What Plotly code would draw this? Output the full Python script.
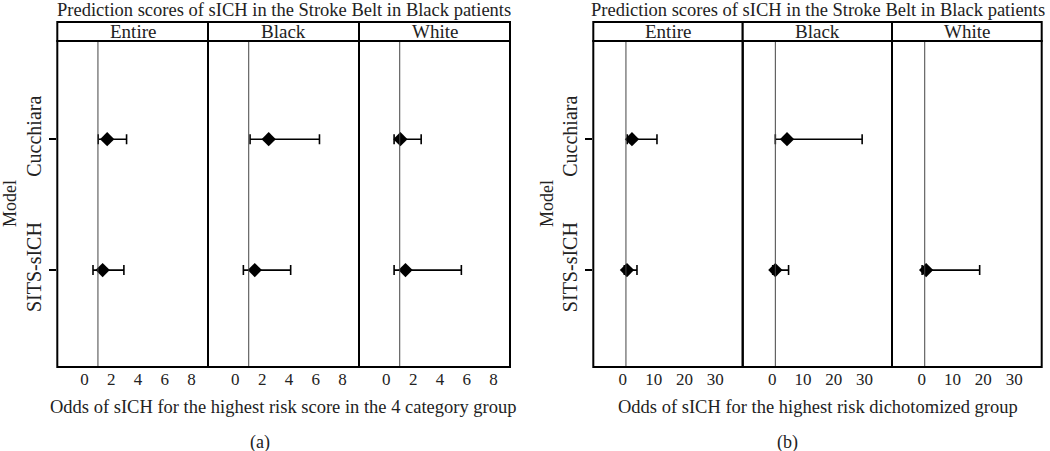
import plotly.graph_objects as go

# ---------------- data ----------------
models = ["Cucchiara", "SITS-sICH"]
groups = ["Entire", "Black", "White"]

# Panel (a): 4-category group odds ratios [Cucchiara, SITS-sICH]
a_entire_or = [1.69, 1.35]
a_entire_lo = [1.02, 0.63]
a_entire_hi = [3.14, 2.94]
a_black_or = [2.49, 1.45]
a_black_lo = [1.10, 0.60]
a_black_hi = [6.28, 4.13]
a_white_or = [1.05, 1.43]
a_white_lo = [0.58, 0.58]
a_white_hi = [2.60, 5.60]

# Panel (b): dichotomized group odds ratios [Cucchiara, SITS-sICH]
b_entire_or = [2.95, 1.33]
b_entire_lo = [1.43, 0.47]
b_entire_hi = [11.07, 4.58]
b_black_or = [4.8, 1.0]
b_black_lo = [1.0, 0.15]
b_black_hi = [29.2, 5.3]
b_white_or = [None, 1.45]
b_white_lo = [None, 0.16]
b_white_hi = [None, 18.8]

a_ticks = [0, 2, 4, 6, 8]
b_ticks = [0, 10, 20, 30]
ref_value = 1

title_text = "Prediction scores of sICH in the Stroke Belt in Black patients"
a_xtitle = "Odds of sICH for the highest risk score in the 4 category group"
b_xtitle = "Odds of sICH for the highest risk dichotomized group"

# ---------------- layout geometry ----------------
W, H = 1050, 451
FONT = "Liberation Serif"

def fx(px):
    return px / W

def fy(py):
    return 1 - py / H

plot_top, plot_bot = 41, 367
strip_top = 22
a_edges = [57.3, 208, 359, 510]
b_edges = [593.3, 742.7, 892, 1041.7]
a_range = [-2.04, 9.23]
b_range = [-9.6, 38.9]
y_range = [0.26, 2.75]
ypos = {"Cucchiara": 2, "SITS-sICH": 1}

fig = go.Figure()

panels = [
    ("a", a_edges, a_range, a_ticks,
     [(a_entire_or, a_entire_lo, a_entire_hi),
      (a_black_or, a_black_lo, a_black_hi),
      (a_white_or, a_white_lo, a_white_hi)]),
    ("b", b_edges, b_range, b_ticks,
     [(b_entire_or, b_entire_lo, b_entire_hi),
      (b_black_or, b_black_lo, b_black_hi),
      (b_white_or, b_white_lo, b_white_hi)]),
]

shapes = []
annotations = []
axis_idx = 0
for pi, (name, edges, xr, ticks, series) in enumerate(panels):
    y_axis_name = "y" if pi == 0 else "y2"
    y_layout_key = "yaxis" if pi == 0 else "yaxis2"
    for gi, g in enumerate(groups):
        axis_idx += 1
        xa = "x" if axis_idx == 1 else f"x{axis_idx}"
        xkey = "xaxis" if axis_idx == 1 else f"xaxis{axis_idx}"
        orv, lo, hi = series[gi]
        xs, ys, ep, em = [], [], [], []
        for mi, m in enumerate(models):
            if orv[mi] is None:
                continue
            xs.append(orv[mi])
            ys.append(ypos[m])
            ep.append(hi[mi] - orv[mi])
            em.append(orv[mi] - lo[mi])
        fig.add_trace(go.Scatter(
            x=xs, y=ys, xaxis=xa, yaxis=y_axis_name, mode="markers",
            marker=dict(symbol="diamond", size=11, color="black"),
            error_x=dict(type="data", symmetric=False, array=ep, arrayminus=em,
                         color="black", thickness=1.6, width=5),
            showlegend=False, hoverinfo="x+y",
        ))
        fig.layout[xkey] = dict(
            domain=[fx(edges[gi]), fx(edges[gi + 1])], range=xr,
            anchor=y_axis_name, tickvals=ticks, ticktext=[str(t) for t in ticks],
            showgrid=False, zeroline=False, showline=False, ticks="",
            tickfont=dict(family=FONT, size=17, color="#222"),
            fixedrange=True,
        )
        # reference line at odds = 1
        shapes.append(dict(type="line", xref=xa, yref=f"{y_axis_name} domain",
                           x0=ref_value, x1=ref_value, y0=0, y1=1,
                           line=dict(color="#444", width=1)))
        # strip
        shapes.append(dict(type="rect", xref="paper", yref="paper",
                           x0=fx(edges[gi]), x1=fx(edges[gi + 1]),
                           y0=fy(plot_top), y1=fy(strip_top),
                           line=dict(color="black", width=2), fillcolor="white"))
        annotations.append(dict(text=g, xref="paper", yref="paper",
                                x=fx((edges[gi] + edges[gi + 1]) / 2),
                                y=fy((strip_top + plot_top) / 2 + 0.5),
                                showarrow=False, xanchor="center", yanchor="middle",
                                font=dict(family=FONT, size=19, color="#222")))
        # panel border
        shapes.append(dict(type="rect", xref="paper", yref="paper",
                           x0=fx(edges[gi]), x1=fx(edges[gi + 1]),
                           y0=fy(plot_bot), y1=fy(plot_top),
                           line=dict(color="black", width=2)))
    anchor_x = "x" if pi == 0 else "x4"
    fig.layout[y_layout_key] = dict(
        domain=[fy(plot_bot), fy(plot_top)], range=y_range, anchor=anchor_x,
        tickvals=[ypos[m] for m in models], ticktext=models, tickangle=-90,
        ticks="outside", ticklen=7, tickwidth=1.5, tickcolor="black",
        showgrid=False, zeroline=False, showline=False,
        tickfont=dict(family=FONT, size=20, color="#222"), fixedrange=True,
    )
    cx = (edges[0] + edges[-1]) / 2
    annotations.append(dict(text=title_text, xref="paper", yref="paper",
                            x=fx(cx), y=fy(10), showarrow=False,
                            xanchor="center", yanchor="middle",
                            font=dict(family=FONT, size=18.5, color="#222")))
    annotations.append(dict(text=a_xtitle if pi == 0 else b_xtitle,
                            xref="paper", yref="paper",
                            x=fx(cx), y=fy(407), showarrow=False,
                            xanchor="center", yanchor="middle",
                            font=dict(family=FONT, size=18.5, color="#222")))
    annotations.append(dict(text="(a)" if pi == 0 else "(b)",
                            xref="paper", yref="paper",
                            x=fx(260 if pi == 0 else 787), y=fy(442),
                            showarrow=False, xanchor="center", yanchor="middle",
                            font=dict(family=FONT, size=18, color="#222")))
    annotations.append(dict(text="Model", xref="paper", yref="paper",
                            x=fx(10 if pi == 0 else 547),
                            y=fy((plot_top + plot_bot) / 2), textangle=-90,
                            showarrow=False, xanchor="center", yanchor="middle",
                            font=dict(family=FONT, size=18, color="#222")))

fig.update_layout(
    width=W, height=H, margin=dict(l=0, r=0, t=0, b=0),
    paper_bgcolor="white", plot_bgcolor="white",
    shapes=shapes, annotations=annotations,
    font=dict(family=FONT, color="#222"),
)

fig.write_html("out.html")
